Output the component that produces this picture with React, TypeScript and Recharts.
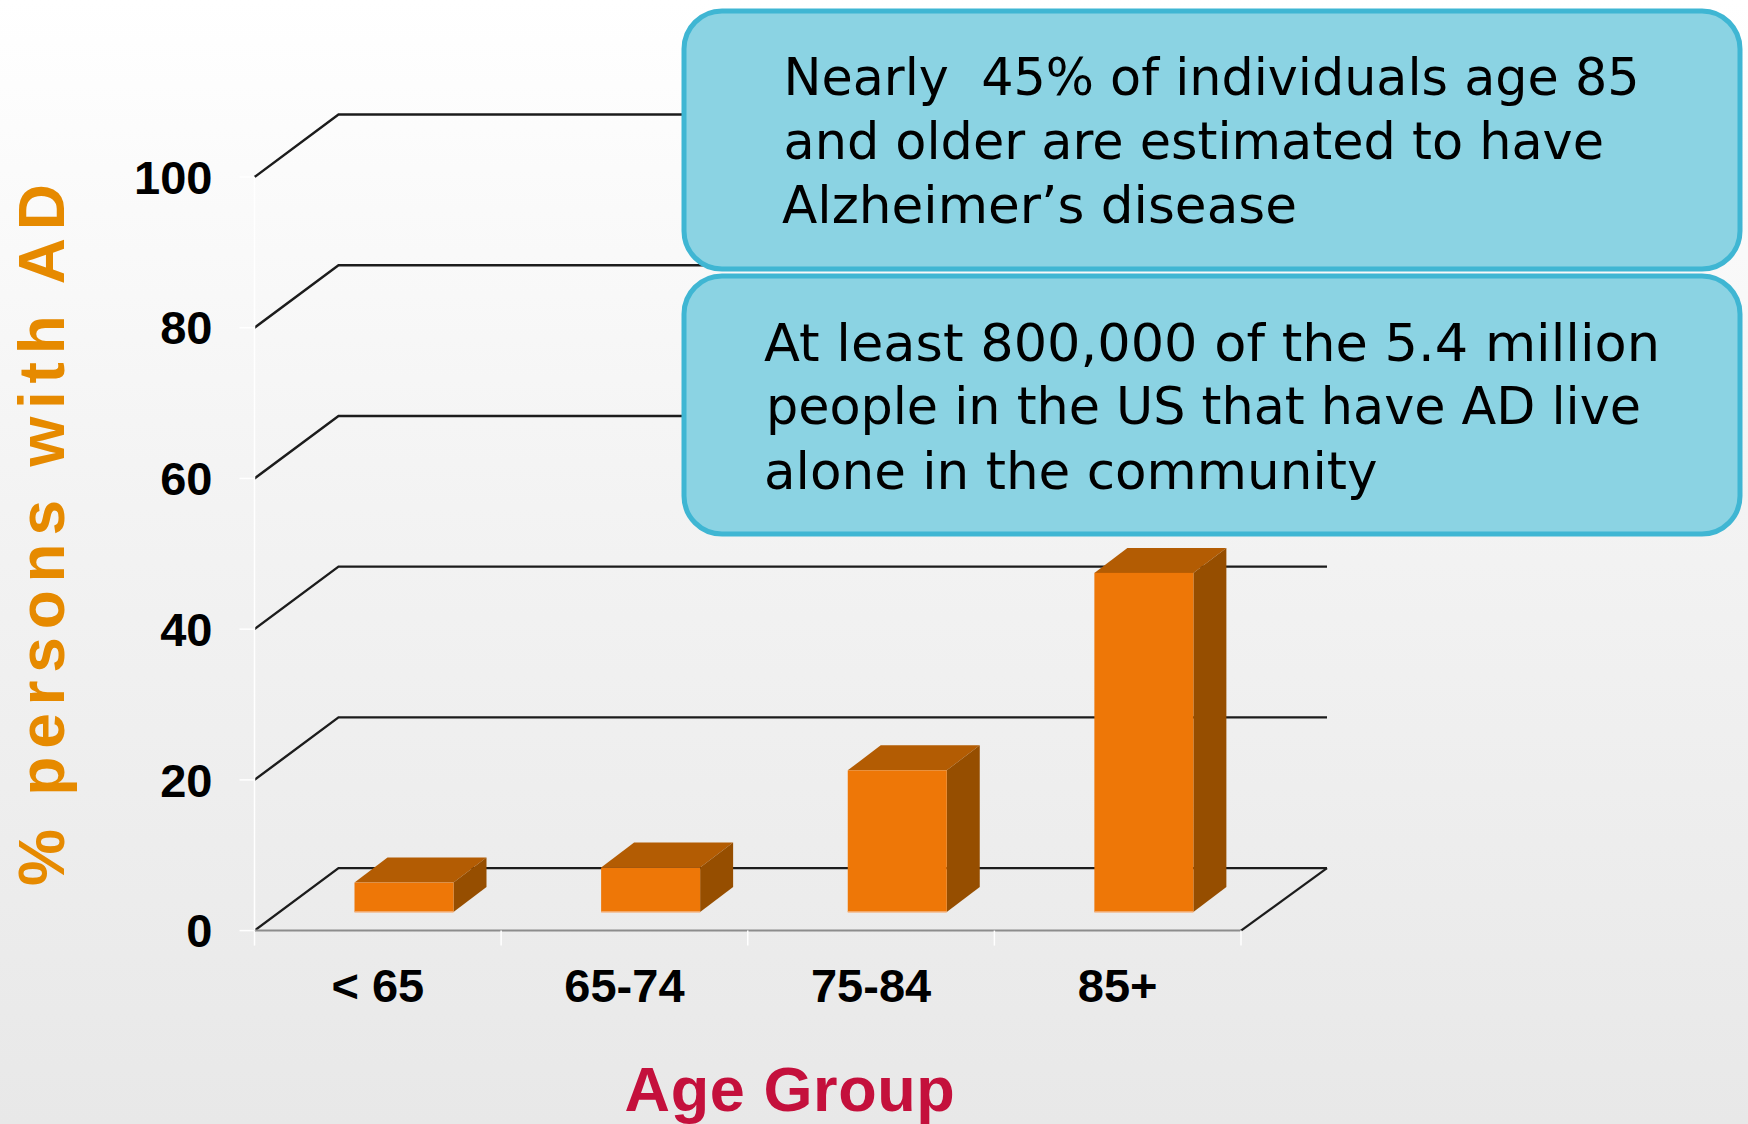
import React from 'react';
import { ComposedChart, Bar, XAxis, YAxis, CartesianGrid } from 'recharts';

const ageGroups = ['< 65', '65-74', '75-84', '85+'];
const percentWithAD = [3.9, 5.9, 18.8, 45];
const yTicks = [0, 20, 40, 60, 80, 100];
const calloutOne = ['Nearly  45% of individuals age 85', 'and older are estimated to have', 'Alzheimer\u2019s disease'];
const calloutTwo = ['At least 800,000 of the 5.4 million', 'people in the US that have AD live', 'alone in the community'];

const chartData = ageGroups.map((group, i) => ({ group, value: percentWithAD[i] }));

const W = 1748;
const H = 1124;
const PLOT_LEFT = 254.5;
const PLOT_RIGHT = 1241;
const PLOT_TOP = 177;
const PLOT_BOTTOM = 930.6;
const DEPTH_X = 84;
const DEPTH_Y = 62.5;
const SANS = '"Liberation Sans", Arial, sans-serif';
const CALLOUT_FONT = '"DejaVu Sans", Verdana, sans-serif';

function Bar3D(props: any) {
  const { x, y, width, height } = props;
  const fx = x + 26;
  const fy = y - 18.6;
  const dx = 33;
  const dy = 25;
  const bottom = fy + height;
  return (
    <g>
      <path d={`M${fx},${fy} L${fx + dx},${fy - dy} L${fx + width + dx},${fy - dy} L${fx + width},${fy} Z`} fill="#b35c03" />
      <path d={`M${fx + width},${fy} L${fx + width + dx},${fy - dy} L${fx + width + dx},${bottom - dy} L${fx + width},${bottom} Z`} fill="#964e00" />
      <rect x={fx} y={fy} width={width} height={height} fill="#ee7707" />
      <line x1={fx} x2={fx + width} y1={bottom} y2={bottom} stroke="#f4b98a" strokeWidth={1.5} />
    </g>
  );
}

function gridLine(props: any) {
  const { x1, x2, y1, index } = props;
  const isFloor = Math.abs(y1 - PLOT_BOTTOM) < 1;
  const backY = y1 - DEPTH_Y;
  const backRight = x2 + DEPTH_X + 2;
  return (
    <g key={`grid-${index}-${y1}`}>
      <path d={`M${x1},${y1} L${x1 + DEPTH_X},${backY} L${backRight},${backY}`} fill="none" stroke="#1c1c1c" strokeWidth={2.4} />
      {isFloor && <line x1={x1} x2={x2} y1={y1} y2={y1} stroke="#8c8c8c" strokeWidth={2} />}
      {isFloor && <line x1={x2} x2={backRight} y1={y1} y2={backY} stroke="#1c1c1c" strokeWidth={2.2} />}
    </g>
  );
}

function XTick(props: any) {
  const { x, payload, index } = props;
  const half = payload?.offset ?? (PLOT_RIGHT - PLOT_LEFT) / ageGroups.length / 2;
  return (
    <g>
      <line x1={x - half} x2={x - half} y1={PLOT_BOTTOM} y2={PLOT_BOTTOM + 15} stroke="#ffffff" strokeWidth={1.5} />
      {index === ageGroups.length - 1 && (
        <line x1={x + half} x2={x + half} y1={PLOT_BOTTOM} y2={PLOT_BOTTOM + 15} stroke="#ffffff" strokeWidth={1.5} />
      )}
      <text x={x} y={PLOT_BOTTOM + 71} textAnchor="middle" fontFamily={SANS} fontWeight={700} fontSize={47} fill="#000000">
        {payload.value}
      </text>
    </g>
  );
}

function YTitle() {
  return (
    <text
      transform="translate(64,886) rotate(-90)"
      fontFamily={SANS}
      fontWeight={700}
      fontSize={64}
      letterSpacing={7.8}
      fill="#e68a00"
    >
      % persons with AD
    </text>
  );
}

function XTitle() {
  return (
    <text x={790} y={1110.5} textAnchor="middle" fontFamily={SANS} fontWeight={700} fontSize={63} letterSpacing={0.6} fill="#c4103c">
      Age Group
    </text>
  );
}

function Callout({ top, lines, spans, baselines }: { top: number; lines: string[]; spans: number[][]; baselines: number[] }) {
  return (
    <g>
      <rect x={684} y={top} width={1056} height={258} rx={38} ry={38} fill="#8bd3e3" stroke="#3fb6d3" strokeWidth={5} />
      {lines.map((line, i) => (
        <text
          key={line}
          x={spans[i][0]}
          y={baselines[i]}
          textLength={spans[i][1] - spans[i][0]}
          lengthAdjust="spacingAndGlyphs"
          fontFamily={CALLOUT_FONT}
          fontSize={52}
          fill="#000000"
          style={{ whiteSpace: 'pre' }}
        >
          {line}
        </text>
      ))}
    </g>
  );
}

export default function App() {
  return (
    <div
      style={{
        position: 'fixed',
        left: 0,
        top: 0,
        width: W,
        height: H,
        overflow: 'hidden',
        background: 'linear-gradient(to bottom, #ffffff 0%, #f3f3f3 45%, #e8e8e8 100%)',
      }}
    >
      <ComposedChart
        width={W}
        height={H}
        data={chartData}
        margin={{ top: PLOT_TOP, right: W - PLOT_RIGHT, bottom: 0, left: 54.5 }}
      >
        <CartesianGrid vertical={false} horizontal={gridLine as any} />
        <XAxis
          dataKey="group"
          type="category"
          height={H - PLOT_BOTTOM}
          axisLine={false}
          tickLine={false}
          interval={0}
          tick={<XTick />}
          label={<XTitle />}
        />
        <YAxis
          type="number"
          domain={[0, 100]}
          ticks={yTicks}
          width={200}
          axisLine={{ stroke: '#ffffff', strokeWidth: 1.5 }}
          tickLine={{ stroke: '#ffffff', strokeWidth: 1.5 }}
          tickSize={15}
          tickMargin={27}
          tick={{ fontFamily: SANS, fontWeight: 700, fontSize: 47, fill: '#000000' }}
          label={<YTitle />}
        />
        <Bar dataKey="value" barSize={99} shape={<Bar3D />} isAnimationActive={false} />
      </ComposedChart>
      <svg width={W} height={H} style={{ position: 'absolute', left: 0, top: 0 }}>
        <Callout
          top={11}
          lines={calloutOne}
          spans={[[783.5, 1639.5], [783.5, 1604], [782, 1297]]}
          baselines={[95, 159, 223]}
        />
        <Callout
          top={276}
          lines={calloutTwo}
          spans={[[764, 1660], [766, 1641], [764, 1377.5]]}
          baselines={[361, 424, 488.5]}
        />
      </svg>
    </div>
  );
}
